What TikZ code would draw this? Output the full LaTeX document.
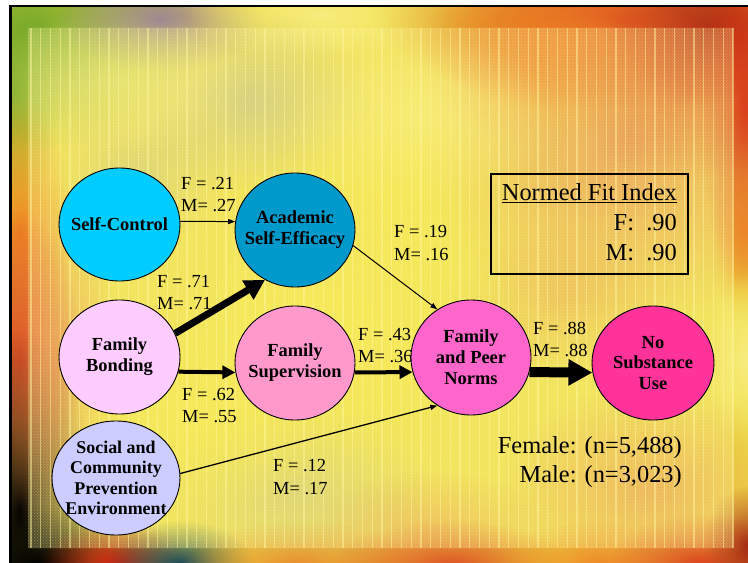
\documentclass[tikz,border=0pt]{standalone}
\usepackage{fontspec}
\setmainfont{Liberation Serif}
\usetikzlibrary{shapes.geometric,arrows.meta,fadings,patterns}
\tikzfading[name=softblob, inner color=transparent!0, outer color=transparent!100]
\definecolor{cSC}{RGB}{0,204,255}
\definecolor{cASE}{RGB}{0,153,204}
\definecolor{cFB}{RGB}{255,204,255}
\definecolor{cFS}{RGB}{255,153,204}
\definecolor{cFPN}{RGB}{255,102,204}
\definecolor{cNSU}{RGB}{255,51,153}
\definecolor{cSCPE}{RGB}{204,204,255}
\definecolor{bgyel}{RGB}{238,222,70}
\definecolor{byel2}{RGB}{246,232,60}
\definecolor{bgreen}{RGB}{110,165,40}
\definecolor{bpurple}{RGB}{140,110,170}
\definecolor{bred}{RGB}{215,35,15}
\definecolor{bdred}{RGB}{150,20,10}
\definecolor{borange}{RGB}{240,130,30}
\definecolor{bteal}{RGB}{20,70,90}
\definecolor{bblk}{RGB}{0,0,0}
\definecolor{bgrey}{RGB}{175,178,150}
\definecolor{bly}{RGB}{250,240,140}
\definecolor{bor2}{RGB}{228,125,70}
\definecolor{meshy}{RGB}{255,246,160}
\tikzset{
  var/.style={ellipse, draw=black, line width=0.9bp, inner sep=0pt},
  vtext/.style={font=\bfseries\fontsize{18.5}{21}\selectfont, align=center, inner sep=0pt},
  lab/.style={font=\fontsize{18.5}{22}\selectfont, inner sep=0pt, anchor=base west},
  big/.style={font=\fontsize{24.5}{29}\selectfont, inner sep=0pt, anchor=base east},
  thinarr/.style={line width=1bp, -{Triangle[length=7bp,width=5bp]}},
  medarr/.style={line width=4bp, -{Triangle[length=13bp,width=13bp]}},
  thickarr/.style={line width=7bp, -{Triangle[length=20bp,width=21bp]}},
  blockarr/.style={line width=10bp, -{Triangle[length=24bp,width=25bp]}},
  blob/.style={path fading=softblob}
}
\begin{document}
\begin{tikzpicture}[x=1bp,y=-1bp]
\useasboundingbox (0,0) rectangle (748,563);
\fill[white] (0,0) rectangle (748,563);
\fill[black] (9,5) rectangle (748,563);
% photo background
\begin{scope}
\clip (12,7.5) rectangle (748,563);
\fill[bgyel] (12,7) rectangle (748,563);
\foreach \x/\y/\rx/\ry/\c/\o in {
  40/30/110/80/bgreen/0.9, 160/20/70/35/bpurple/0.8, 320/15/90/30/bly/0.8,
  620/20/160/60/bred/0.9, 710/30/70/50/bdred/0.8, 560/40/90/50/borange/0.8,
  15/90/30/90/bgreen/0.7, 20/230/35/90/borange/0.9, 20/360/40/100/bred/0.9,
  20/510/50/120/bblk/1, 40/565/90/40/bblk/1, 115/565/50/30/bred/1,
  180/565/50/30/bteal/1, 300/565/80/30/borange/0.9, 450/565/80/30/bred/0.8,
  600/565/70/30/borange/0.9, 700/565/60/35/bred/0.9, 748/545/30/40/bdred/0.9,
  745/110/30/120/bred/0.9, 745/230/25/60/borange/0.8, 745/360/25/60/bly/0.8,
  620/150/130/120/bor2/0.8, 690/90/80/60/bred/0.45, 540/70/80/50/borange/0.5,
  650/490/100/70/bor2/0.6, 50/360/45/120/bor2/0.7, 250/100/80/60/bgrey/0.6,
  140/170/60/50/bgrey/0.4, 420/120/90/60/bly/0.6, 300/490/90/60/bgrey/0.45,
  430/530/80/40/bor2/0.45, 560/300/70/50/bor2/0.35, 330/330/130/120/byel2/0.8,
  190/420/90/70/byel2/0.7, 400/200/90/80/byel2/0.6, 120/80/90/50/bly/0.5}
  {\fill[\c, opacity=\o, blob] (\x,\y) ellipse [x radius=1.5*\rx, y radius=1.5*\ry];}
\end{scope}
% mesh overlay
\fill[meshy, opacity=0.25] (28,28) rectangle (733,548);
\fill[pattern=crosshatch dots, pattern color=meshy, opacity=0.35] (28,28) rectangle (733,548);
\foreach \x in {31,40.75,...,733} \draw[meshy, line width=1.1bp, opacity=0.5] (\x,28) -- (\x,548);
% coefficient labels
\node[lab] (f21) at (181,189.3) {F = .21};
\node[lab] (m27) at (181,212) {M= .27};
\node[lab] (f71) at (157,287) {F = .71};
\node[lab] (m71) at (157,309) {M= .71};
\node[lab] (f19) at (394,237.3) {F = .19};
\node[lab] (m16) at (394,260) {M= .16};
\node[lab] (f43) at (358,340) {F = .43};
\node[lab] (m36) at (358,362.3) {M= .36};
\node[lab] (f88) at (533,334) {F = .88};
\node[lab] (m88) at (533,356) {M= .88};
\node[lab] (f62) at (182,400) {F = .62};
\node[lab] (m55) at (182,422.7) {M= .55};
\node[lab] (f12) at (273,471.7) {F = .12};
\node[lab] (m17) at (273,494.3) {M= .17};
% variables
\node[var, fill=cSC, minimum width=121bp, minimum height=113bp,
  label={[vtext]center:Self-Control}] (sc) at (119.5,224.5) {};
\node[var, fill=cASE, minimum width=120bp, minimum height=114bp,
  label={[vtext]center:{Academic\\Self-Efficacy}}] (ase) at (295,230) {};
\node[var, fill=cFB, minimum width=121bp, minimum height=114bp,
  label={[vtext]center:{Family\\Bonding}}] (fb) at (119.5,357) {};
\node[var, fill=cFS, minimum width=120bp, minimum height=114bp,
  label={[vtext]center:{Family\\Supervision}}] (fs) at (295,363) {};
\node[var, fill=cFPN, minimum width=120bp, minimum height=115bp,
  label={[vtext]center:{Family\\and Peer\\Norms}}] (fpn) at (471,357.5) {};
\node[var, fill=cNSU, minimum width=122bp, minimum height=114bp,
  label={[vtext]center:{No\\Substance\\Use}}] (nsu) at (653,363) {};
\node[var, fill=cSCPE, minimum width=128bp, minimum height=114bp,
  label={[vtext, font=\bfseries\fontsize{18}{20.5}\selectfont]center:{Social and\\Community\\Prevention\\Environment}}] (scpe) at (116,478) {};
% paths
\draw[thinarr] (sc.3) -- (ase.172);
\draw[thickarr] (fb.23) -- (ase.239);
\draw[medarr] (fb.-14) -- (fs.189);
\draw[medarr] (fs.-9) -- (fpn.194);
\draw[thinarr] (ase.-15) -- (fpn.125);
\draw[thinarr, line width=1.3bp] (scpe.4) -- (fpn.235);
\draw[blockarr] (fpn.-14) -- (nsu.189);
% fit index box
\node[draw=black, line width=2bp, minimum width=196.7bp, minimum height=99.4bp,
  anchor=north west, inner sep=0pt] (nfi) at (490,173.3) {};
\node[big] (nfit) at (677,200.7) {\underline{Normed Fit Index}};
\node[big] (nfif) at (677,230.7) {F:\ \ .90};
\node[big] (nfim) at (677,260) {M:\ \ .90};
% sample sizes
\node[big] (fem) at (682,453) {Female: (n=5,488)};
\node[big] (mal) at (682,482.7) {Male: (n=3,023)};
\end{tikzpicture}
\end{document}
